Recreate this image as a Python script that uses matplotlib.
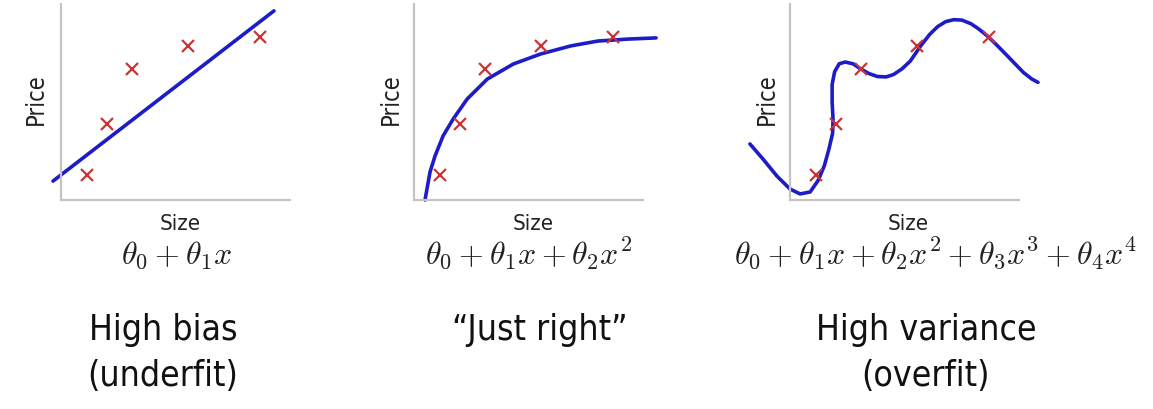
import numpy as np
import matplotlib.pyplot as plt

plt.rcParams["mathtext.fontset"] = "cm"

# training points (same in all three panels)
size = [1.15, 2.0, 3.1, 5.55, 8.7]
price = [1.3, 3.9, 6.7, 7.85, 8.3]

# panel 1: straight line fit theta0 + theta1*x
theta_lin = [1.28, 0.9]
line_x = [-0.35, 9.3]

# panel 2: "just right" curve
fit2_x = [0.48, 0.70, 0.92, 1.27, 1.71, 2.32, 3.2, 4.34, 5.53, 6.84, 8.03, 9.34, 10.57]
fit2_y = [0.0, 1.43, 2.25, 3.27, 4.13, 5.15, 6.17, 6.94, 7.45, 7.86, 8.11, 8.21, 8.27]

# panel 3: overfit wiggly curve
fit3_x = [-1.75, -1.18, -0.57, 0.0, 0.44, 0.88, 1.23, 1.50, 1.70, 1.86, 1.88, 1.84, 1.84, 1.95, 2.15,
          2.41, 2.75, 3.07, 3.45, 3.82, 4.20, 4.52, 4.90, 5.26, 5.70, 6.10, 6.45, 6.80, 7.15,
          7.50, 7.89, 8.25, 8.64, 9.05, 9.47, 9.85, 10.2, 10.55, 10.83]
fit3_y = [2.86, 2.09, 1.22, 0.56, 0.31, 0.41, 1.00, 1.75, 2.60, 3.40, 4.10, 5.00, 5.90, 6.55, 6.95,
          7.04, 6.95, 6.70, 6.45, 6.30, 6.28, 6.40, 6.70, 7.10, 7.85, 8.45, 8.85, 9.10, 9.20,
          9.18, 9.00, 8.72, 8.35, 7.88, 7.38, 6.92, 6.50, 6.18, 6.00]

formulas = [r"$\theta_0+\theta_1x$",
            r"$\theta_0+\theta_1x+\theta_2x^2$",
            r"$\theta_0+\theta_1x+\theta_2x^2+\theta_3x^3+\theta_4x^4$"]
captions = [["High bias", "(underfit)"], ["\u201cJust right\u201d"], ["High variance", "(overfit)"]]

W, H = 1153, 410
fig = plt.figure(figsize=(W / 100, H / 100), dpi=100)
fig.patch.set_facecolor("white")

lefts = [61, 414, 790]
label_x = [36, 391, 767]
size_x = [180, 533, 908]
form_x = [177, 529, 935]
cap_x = [163, 540, 926]
cap_base = [340, 386]

blue = "#1c1cc8"
red = "#cc3333"

curves = [
    (line_x, [theta_lin[0] + theta_lin[1] * v for v in line_x]),
    (fit2_x, fit2_y),
    (fit3_x, fit3_y),
]

for i in range(3):
    ax = fig.add_axes([lefts[i] / W, (H - 201) / H, 229 / W, 196 / H])
    ax.set_xlim(0, 10)
    ax.set_ylim(0, 10)
    ax.set_facecolor("none")
    for s in ["top", "right"]:
        ax.spines[s].set_visible(False)
    for s in ["left", "bottom"]:
        ax.spines[s].set_color("#c4c4c4")
        ax.spines[s].set_linewidth(1.6)
    ax.set_xticks([])
    ax.set_yticks([])
    cx, cy = curves[i]
    ax.plot(cx, cy, color=blue, lw=2.6, clip_on=False, solid_capstyle="round",
            solid_joinstyle="round")
    ax.plot(size, price, "x", color=red, ms=8, mew=1.6, clip_on=False)

    fig.text(label_x[i] / W, 1 - 99 / H, "Price", rotation=90, ha="center", va="center",
             fontsize=17, stretch="condensed", color="#222222")
    fig.text(size_x[i] / W, 1 - 230 / H, "Size", ha="center", va="baseline",
             fontsize=16, stretch="condensed", color="#222222")
    fig.text(form_x[i] / W, 1 - 264 / H, formulas[i], ha="center", va="baseline",
             fontsize=23, color="#222222")
    for j, line in enumerate(captions[i]):
        fig.text(cap_x[i] / W, 1 - cap_base[j] / H, line, ha="center", va="baseline",
                 fontsize=25.5, stretch="condensed", color="#111111")

fig.savefig("out.png", dpi=100)
